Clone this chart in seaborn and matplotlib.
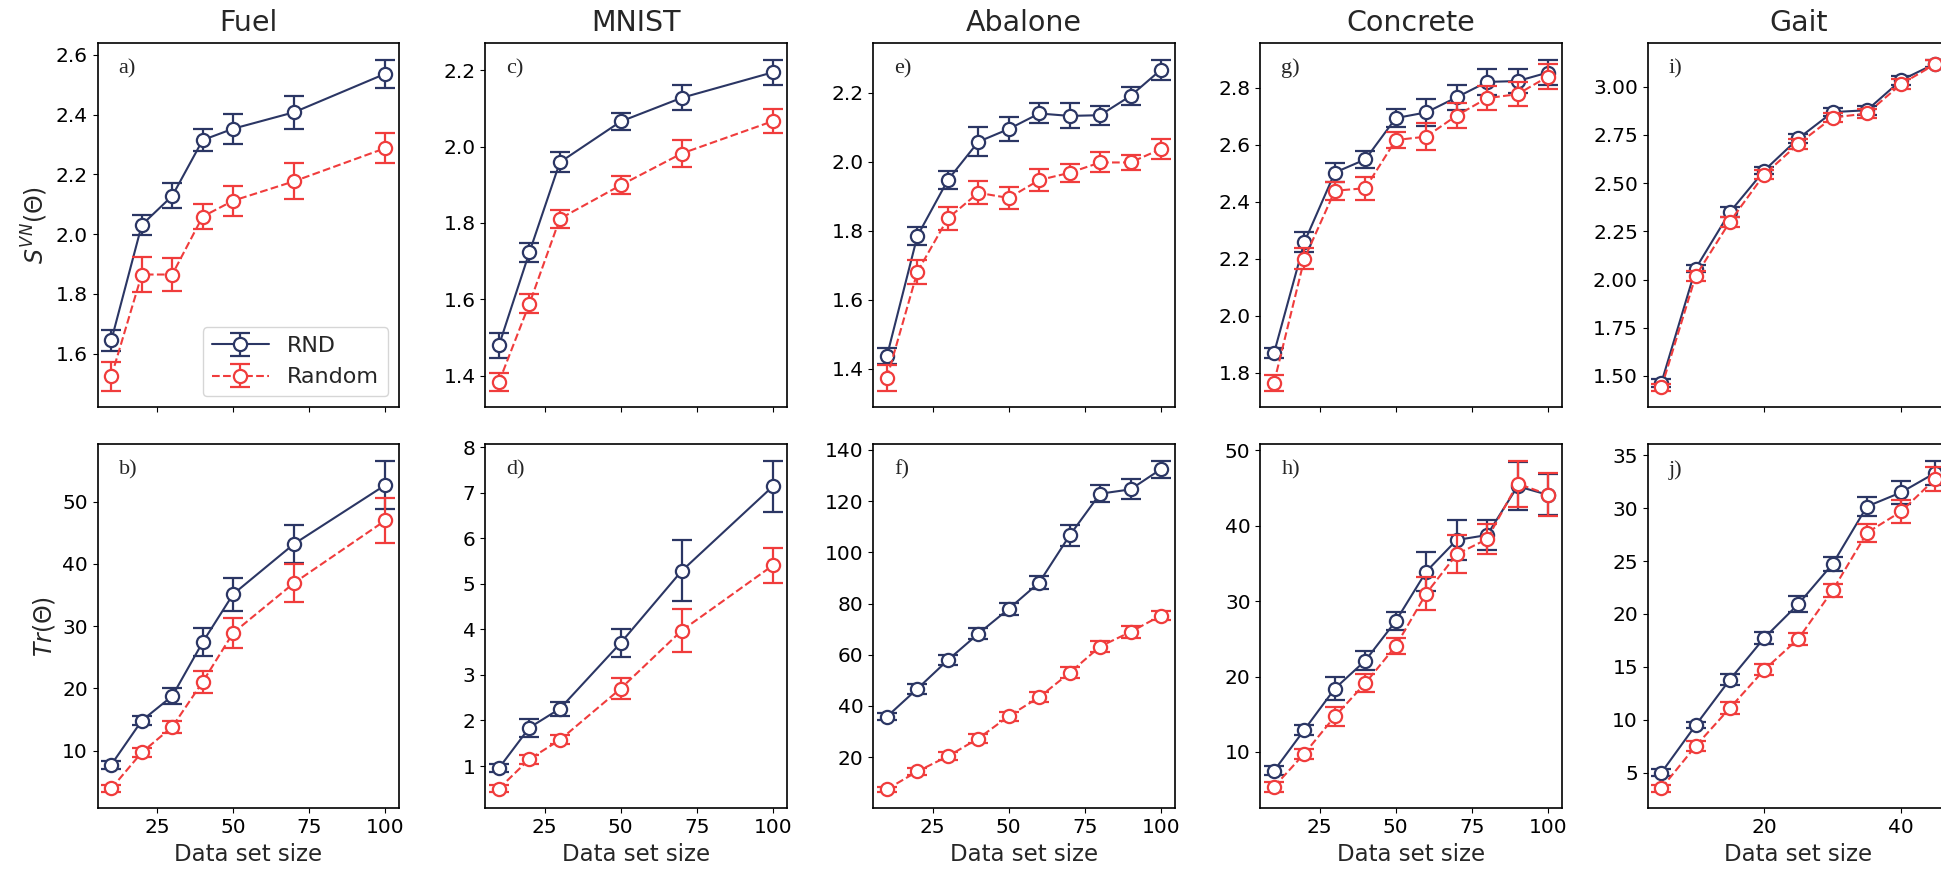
import numpy as np
import pandas as pd
import matplotlib
matplotlib.use("Agg")
import matplotlib.pyplot as plt
import seaborn as sns
from matplotlib.legend_handler import HandlerTuple

# ---------------- data ----------------
datasets = ["Fuel", "MNIST", "Abalone", "Concrete", "Gait"]
series_names = ["RND", "Random"]

fuel_x = [10, 20, 30, 40, 50, 70, 100]
fuel_svn_rnd = [1.645, 2.031, 2.128, 2.315, 2.353, 2.408, 2.537]
fuel_svn_rnd_err = [0.036, 0.034, 0.042, 0.036, 0.050, 0.056, 0.047]
fuel_svn_random = [1.524, 1.865, 1.865, 2.059, 2.112, 2.177, 2.288]
fuel_svn_random_err = [0.048, 0.060, 0.055, 0.043, 0.050, 0.060, 0.050]
fuel_tr_rnd = [7.77, 14.83, 18.77, 27.42, 35.13, 43.2, 52.66]
fuel_tr_rnd_err = [0.66, 0.74, 1.3, 2.23, 2.63, 3.08, 3.9]
fuel_tr_random = [3.94, 9.73, 13.82, 21.05, 28.91, 36.93, 46.97]
fuel_tr_random_err = [0.53, 0.72, 1.0, 1.73, 2.39, 3.0, 3.61]

mnist_x = [10, 20, 30, 50, 70, 100]
mnist_svn_rnd = [1.479, 1.723, 1.959, 2.066, 2.128, 2.195]
mnist_svn_rnd_err = [0.033, 0.025, 0.026, 0.023, 0.033, 0.033]
mnist_svn_random = [1.383, 1.588, 1.811, 1.899, 1.982, 2.067]
mnist_svn_random_err = [0.023, 0.025, 0.024, 0.024, 0.036, 0.031]
mnist_tr_rnd = [0.955, 1.843, 2.258, 3.706, 5.285, 7.148]
mnist_tr_rnd_err = [0.087, 0.2, 0.15, 0.31, 0.67, 0.56]
mnist_tr_random = [0.504, 1.152, 1.573, 2.702, 3.975, 5.41]
mnist_tr_random_err = [0.07, 0.1, 0.1, 0.226, 0.48, 0.38]

abalone_x = [10, 20, 30, 40, 50, 60, 70, 80, 90, 100]
abalone_svn_rnd = [1.437, 1.785, 1.947, 2.058, 2.095, 2.140, 2.133, 2.135, 2.191, 2.267]
abalone_svn_rnd_err = [0.022, 0.027, 0.026, 0.042, 0.035, 0.029, 0.036, 0.027, 0.026, 0.029]
abalone_svn_random = [1.373, 1.681, 1.836, 1.910, 1.895, 1.947, 1.968, 1.998, 1.998, 2.037]
abalone_svn_random_err = [0.037, 0.034, 0.033, 0.033, 0.033, 0.031, 0.026, 0.029, 0.021, 0.029]
abalone_tr_rnd = [35.8, 46.7, 57.9, 68.2, 77.9, 88.2, 106.6, 122.9, 124.6, 132.5]
abalone_tr_rnd_err = [1.36, 2.0, 2.07, 2.2, 2.33, 2.59, 4.14, 3.37, 3.95, 3.3]
abalone_tr_random = [7.44, 14.4, 20.3, 27.25, 36.0, 43.4, 52.9, 63.2, 68.9, 75.3]
abalone_tr_random_err = [1.0, 1.5, 1.5, 1.8, 1.8, 1.9, 2.1, 2.2, 2.3, 1.9]

concrete_x = [10, 20, 30, 40, 50, 60, 70, 80, 90, 100]
concrete_svn_rnd = [1.869, 2.259, 2.503, 2.549, 2.694, 2.714, 2.767, 2.821, 2.824, 2.854]
concrete_svn_rnd_err = [0.017, 0.036, 0.032, 0.029, 0.031, 0.048, 0.043, 0.047, 0.041, 0.045]
concrete_svn_random = [1.765, 2.201, 2.439, 2.448, 2.617, 2.629, 2.703, 2.764, 2.778, 2.840]
concrete_svn_random_err = [0.028, 0.036, 0.031, 0.040, 0.029, 0.048, 0.043, 0.043, 0.041, 0.043]
concrete_tr_rnd = [7.49, 12.95, 18.41, 22.11, 27.36, 33.92, 38.11, 38.77, 45.24, 44.1]
concrete_tr_rnd_err = [0.62, 0.68, 1.54, 1.3, 1.19, 2.58, 2.64, 2.0, 3.19, 2.7]
concrete_tr_random = [5.37, 9.78, 14.71, 19.12, 24.05, 31.01, 36.21, 38.24, 45.59, 44.14]
concrete_tr_random_err = [0.66, 0.66, 1.21, 1.17, 1.1, 2.25, 2.53, 1.94, 3.04, 2.9]

gait_x = [5, 10, 15, 20, 25, 30, 35, 40, 45]
gait_svn_rnd = [1.465, 2.057, 2.350, 2.565, 2.732, 2.868, 2.878, 3.034, 3.120]
gait_svn_rnd_err = [0.02, 0.02, 0.024, 0.02, 0.024, 0.02, 0.024, 0.024, 0.02]
gait_svn_random = [1.440, 2.018, 2.300, 2.544, 2.704, 2.840, 2.861, 3.014, 3.117]
gait_svn_random_err = [0.017, 0.026, 0.026, 0.024, 0.026, 0.024, 0.024, 0.024, 0.02]
gait_tr_rnd = [5.0, 9.48, 13.8, 17.72, 20.94, 24.73, 30.15, 31.49, 33.34]
gait_tr_rnd_err = [0.33, 0.31, 0.55, 0.55, 0.75, 0.66, 0.94, 1.08, 1.14]
gait_tr_random = [3.53, 7.51, 11.11, 14.71, 17.66, 22.23, 27.67, 29.68, 32.78]
gait_tr_random_err = [0.34, 0.47, 0.56, 0.53, 0.56, 0.64, 0.85, 1.06, 1.13]

xticks_std = [25, 50, 75, 100]
xticks_gait = [20, 40]
yticks_top = {
    "Fuel": [1.6, 1.8, 2.0, 2.2, 2.4, 2.6],
    "MNIST": [1.4, 1.6, 1.8, 2.0, 2.2],
    "Abalone": [1.4, 1.6, 1.8, 2.0, 2.2],
    "Concrete": [1.8, 2.0, 2.2, 2.4, 2.6, 2.8],
    "Gait": [1.5, 1.75, 2.0, 2.25, 2.5, 2.75, 3.0],
}
yticks_bottom = {
    "Fuel": [10, 20, 30, 40, 50],
    "MNIST": [1, 2, 3, 4, 5, 6, 7, 8],
    "Abalone": [20, 40, 60, 80, 100, 120, 140],
    "Concrete": [10, 20, 30, 40, 50],
    "Gait": [5, 10, 15, 20, 25, 30, 35],
}
panel_letters_top = ["a)", "c)", "e)", "g)", "i)"]
panel_letters_bottom = ["b)", "d)", "f)", "h)", "j)"]

xs = {"Fuel": fuel_x, "MNIST": mnist_x, "Abalone": abalone_x, "Concrete": concrete_x, "Gait": gait_x}
top = {
    "Fuel": (fuel_svn_rnd, fuel_svn_rnd_err, fuel_svn_random, fuel_svn_random_err),
    "MNIST": (mnist_svn_rnd, mnist_svn_rnd_err, mnist_svn_random, mnist_svn_random_err),
    "Abalone": (abalone_svn_rnd, abalone_svn_rnd_err, abalone_svn_random, abalone_svn_random_err),
    "Concrete": (concrete_svn_rnd, concrete_svn_rnd_err, concrete_svn_random, concrete_svn_random_err),
    "Gait": (gait_svn_rnd, gait_svn_rnd_err, gait_svn_random, gait_svn_random_err),
}
bottom = {
    "Fuel": (fuel_tr_rnd, fuel_tr_rnd_err, fuel_tr_random, fuel_tr_random_err),
    "MNIST": (mnist_tr_rnd, mnist_tr_rnd_err, mnist_tr_random, mnist_tr_random_err),
    "Abalone": (abalone_tr_rnd, abalone_tr_rnd_err, abalone_tr_random, abalone_tr_random_err),
    "Concrete": (concrete_tr_rnd, concrete_tr_rnd_err, concrete_tr_random, concrete_tr_random_err),
    "Gait": (gait_tr_rnd, gait_tr_rnd_err, gait_tr_random, gait_tr_random_err),
}

# ---------------- style ----------------
sns.set_style("white", rc={
    "axes.edgecolor": "black",
    "axes.linewidth": 1.2,
    "xtick.bottom": True,
    "ytick.left": True,
    "xtick.direction": "out",
    "ytick.direction": "out",
    "xtick.major.size": 5.5,
    "ytick.major.size": 5.5,
    "xtick.major.width": 1.2,
    "ytick.major.width": 1.2,
    "xtick.color": "black",
    "ytick.color": "black",
})
plt.rcParams["font.family"] = ["DejaVu Sans"]
plt.rcParams["mathtext.fontset"] = "dejavusans"

NAVY = "#2b3664"
RED = "#f03c3c"
colors = {"RND": NAVY, "Random": RED}
linestyles = {"RND": "-", "Random": "--"}

fig = plt.figure(figsize=(19.41, 8.75), dpi=100)
lefts = [0.0503, 0.2500, 0.4499, 0.6493, 0.8489]
width = 0.1553
row_bottoms = [0.5345, 0.0762]
height = 0.4162


def draw(ax, x, vals, zbase=2):
    handles = []
    for k, name in enumerate(series_names):
        y = vals[2 * k]
        e = vals[2 * k + 1]
        col = colors[name]
        ls = linestyles[name]
        z = zbase + 2 * k
        eb = ax.errorbar(x, y, yerr=e, fmt="none", ecolor=col, elinewidth=1.6,
                         capsize=7.4, capthick=1.6, zorder=z)
        df = pd.DataFrame({"x": x, "y": y})
        sns.lineplot(data=df, x="x", y="y", ax=ax, color=col, linestyle=ls,
                     linewidth=1.5, marker="o", markersize=9.5,
                     markerfacecolor="white", markeredgecolor=col,
                     markeredgewidth=1.6, zorder=z + 1, legend=False)
        line = ax.get_lines()[-1]
        if ls == "--":
            line.set_dashes((3.7, 1.6))
        handles.append((eb, line))
    return handles


legend_handles = None
for i, name in enumerate(datasets):
    x = xs[name]
    ax_t = fig.add_axes([lefts[i], row_bottoms[0], width, height])
    ax_b = fig.add_axes([lefts[i], row_bottoms[1], width, height], sharex=ax_t)

    h = draw(ax_t, x, top[name])
    draw(ax_b, x, bottom[name])
    if i == 0:
        legend_handles = h

    for ax in (ax_t, ax_b):
        for sp in ax.spines.values():
            sp.set_visible(True)
            sp.set_color("black")
            sp.set_linewidth(1.2)
        ax.tick_params(labelsize=14.5)
        ax.set_xlabel("")
        ax.set_ylabel("")

    ax_t.set_xticks(xticks_gait if name == "Gait" else xticks_std)
    ax_t.set_yticks(yticks_top[name])
    ax_b.set_yticks(yticks_bottom[name])
    ax_t.tick_params(labelbottom=False)
    ax_t.set_title(name, fontsize=20.5, pad=9)
    ax_b.set_xlabel("Data set size", fontsize=16.5)

    ax_t.text(0.07, 0.93, panel_letters_top[i], transform=ax_t.transAxes,
              fontsize=16, family=["Liberation Serif", "DejaVu Serif"],
              ha="left", va="center")
    ax_b.text(0.07, 0.93, panel_letters_bottom[i], transform=ax_b.transAxes,
              fontsize=16, family=["Liberation Serif", "DejaVu Serif"],
              ha="left", va="center")

    if i == 0:
        ax_t.set_ylabel(r"$S^{VN}(\Theta)$", fontsize=17)
        ax_b.set_ylabel(r"$Tr(\Theta)$", fontsize=17)
        ax_t.legend(legend_handles, series_names, loc="lower right",
                    handler_map={tuple: HandlerTuple(ndivide=1, pad=0)},
                    fontsize=16, handlelength=2.6, frameon=True,
                    fancybox=True, framealpha=0.8, edgecolor="#cccccc")

fig.savefig("out.png", dpi=100)
